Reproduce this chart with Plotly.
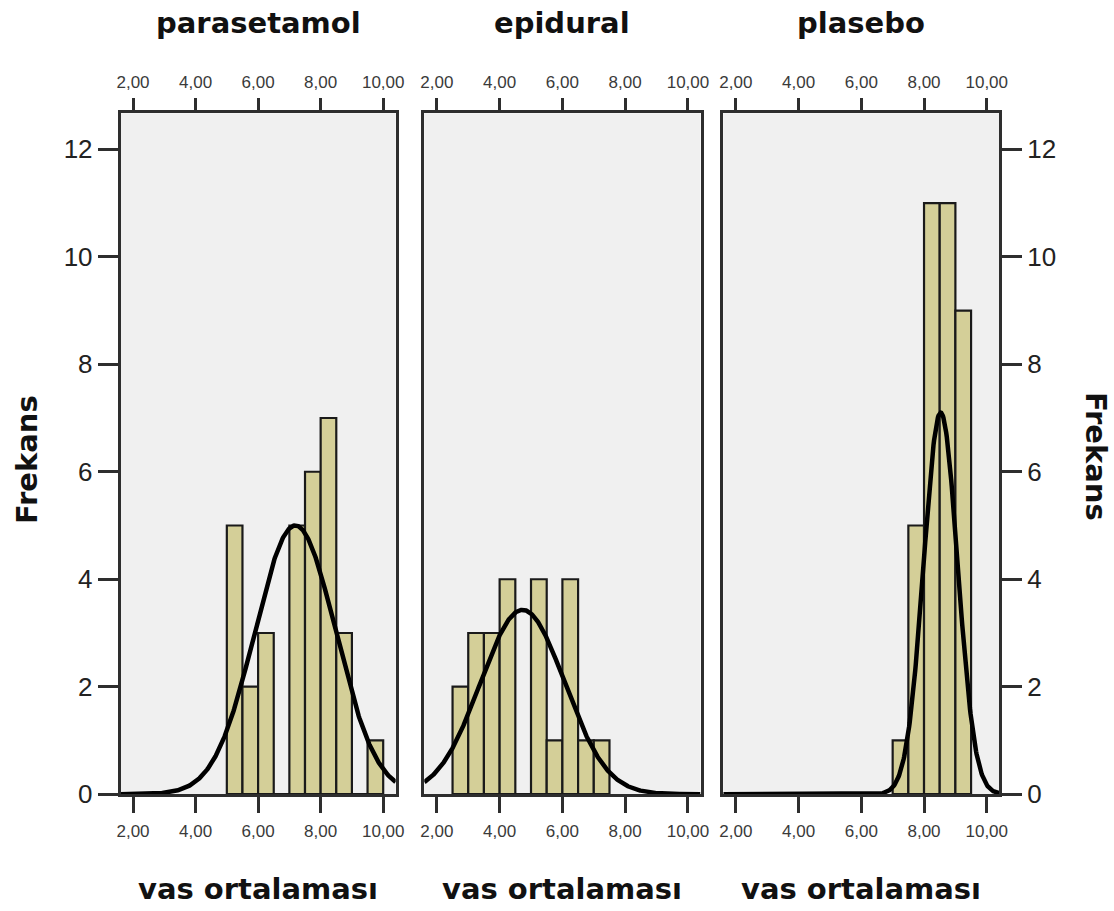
import numpy as np
import plotly.graph_objects as go

# ---- data ----
groups = ["parasetamol", "epidural", "plasebo"]
bin_width = 0.5
bins_parasetamol = [5.0, 5.5, 6.0, 6.5, 7.0, 7.5, 8.0, 8.5, 9.0, 9.5]
counts_parasetamol = [5, 2, 3, 0, 5, 6, 7, 3, 0, 1]
bins_epidural = [2.5, 3.0, 3.5, 4.0, 4.5, 5.0, 5.5, 6.0, 6.5, 7.0]
counts_epidural = [2, 3, 3, 4, 0, 4, 1, 4, 1, 1]
bins_plasebo = [7.0, 7.5, 8.0, 8.5, 9.0]
counts_plasebo = [1, 5, 11, 11, 9]
# fitted normal curves (mean, sd, peak height in counts)
curve_means = [7.19, 4.73, 8.53]
curve_sds = [1.29, 1.34, 0.54]
curve_peaks = [5.0, 3.43, 7.1]
x_ticks = [2, 4, 6, 8, 10]
y_ticks = [0, 2, 4, 6, 8, 10, 12]
x_title = "vas ortalaması"
y_title = "Frekans"

bins_all = [bins_parasetamol, bins_epidural, bins_plasebo]
counts_all = [counts_parasetamol, counts_epidural, counts_plasebo]

W, H = 1114, 911


def px(X):
    return X / W


def py(Y):
    return 1 - Y / H


x_domains = [(px(120.5), px(395.7)), (px(424.3), px(700.5)), (px(723.3), px(999.3))]
y_domain = (py(794.2), py(113.3))
x_range = [1.6, 10.4]
y_range = [0, 12.67]

BAR_FILL = "#D4CF98"
LINE_COL = "#1a1a1a"
AX_COL = "#2e2e2e"
BG = "#F0F0F0"
TICK_FONT = dict(family="Liberation Sans, Arial, sans-serif", size=17, color="#3a3a3a")
YTICK_FONT = dict(family="Liberation Sans, Arial, sans-serif", size=26, color="#222222")
TITLE_FONT = dict(family="DejaVu Sans, sans-serif", size=29, color="#111111")

fig = go.Figure()
layout = dict(
    width=W, height=H,
    margin=dict(l=0, r=0, t=0, b=0, autoexpand=False),
    paper_bgcolor="white",
    plot_bgcolor=BG,
    showlegend=False,
    separators=",.",
    annotations=[],
)

xs = np.linspace(x_range[0], x_range[1], 500)
for i in range(3):
    n = i + 1
    xa = "x" if n == 1 else f"x{n}"
    ya = "y" if n == 1 else f"y{n}"
    centers = [b + bin_width / 2 for b in bins_all[i]]
    fig.add_trace(go.Bar(
        x=centers, y=counts_all[i], width=bin_width,
        marker=dict(color=BAR_FILL, line=dict(color=LINE_COL, width=2.2)),
        xaxis=xa, yaxis=ya, hoverinfo="skip",
    ))
    ys = curve_peaks[i] * np.exp(-0.5 * ((xs - curve_means[i]) / curve_sds[i]) ** 2)
    fig.add_trace(go.Scatter(
        x=xs, y=ys, mode="lines", line=dict(color="black", width=4.5),
        xaxis=xa, yaxis=ya, hoverinfo="skip",
    ))
    top = f"x{n + 3}"
    fig.add_trace(go.Scatter(x=[5], y=[0], mode="markers", marker=dict(opacity=0),
                             xaxis=top, yaxis=ya, hoverinfo="skip"))

    xkey = "xaxis" if n == 1 else f"xaxis{n}"
    ykey = "yaxis" if n == 1 else f"yaxis{n}"
    layout[xkey] = dict(
        domain=list(x_domains[i]), range=x_range, anchor=ya, automargin=False,
        tickvals=x_ticks, tickformat=".2f", ticks="outside", ticklen=16, tickwidth=2.5,
        tickcolor=AX_COL, showline=True, linecolor=AX_COL, linewidth=2.5, mirror=True,
        showgrid=False, zeroline=False, tickfont=TICK_FONT, fixedrange=True,
        ticklabelstandoff=4,
    )
    layout[f"xaxis{n + 3}"] = dict(
        domain=list(x_domains[i]), range=x_range, anchor=ya, overlaying=xa, side="top",
        automargin=False,
        tickvals=x_ticks, tickformat=".2f", ticks="outside", ticklen=14, tickwidth=2.5,
        tickcolor=AX_COL, showline=False, showgrid=False, zeroline=False,
        tickfont=TICK_FONT, fixedrange=True, ticklabelstandoff=4,
    )
    ydict = dict(
        domain=list(y_domain), range=y_range, anchor=xa, automargin=False,
        showline=True, linecolor=AX_COL, linewidth=2.5, mirror=True,
        showgrid=False, zeroline=False, fixedrange=True,
    )
    if n == 1:
        ydict.update(tickvals=y_ticks, ticks="outside", ticklen=20, tickwidth=2.5,
                     tickcolor=AX_COL, tickfont=YTICK_FONT, side="left")
    elif n == 3:
        ydict.update(tickvals=y_ticks, ticks="outside", ticklen=20, tickwidth=2.5,
                     tickcolor=AX_COL, tickfont=YTICK_FONT, side="right")
    else:
        ydict.update(showticklabels=False, ticks="")
    layout[ykey] = ydict

    cx = (x_domains[i][0] + x_domains[i][1]) / 2
    layout["annotations"].append(dict(
        text=f"<b>{groups[i]}</b>", x=cx, y=py(23), xref="paper", yref="paper",
        showarrow=False, font=TITLE_FONT, xanchor="center", yanchor="middle"))
    layout["annotations"].append(dict(
        text=f"<b>{x_title}</b>", x=cx, y=py(889), xref="paper", yref="paper",
        showarrow=False, font=TITLE_FONT, xanchor="center", yanchor="middle"))

layout["annotations"].append(dict(
    text=f"<b>{y_title}</b>", x=px(27), y=py(460), xref="paper", yref="paper",
    showarrow=False, font=TITLE_FONT, textangle=-90, xanchor="center", yanchor="middle"))
layout["annotations"].append(dict(
    text=f"<b>{y_title}</b>", x=px(1096), y=py(456), xref="paper", yref="paper",
    showarrow=False, font=TITLE_FONT, textangle=90, xanchor="center", yanchor="middle"))

fig.update_layout(**layout)
fig.write_html("out.html", config={"displayModeBar": False},
               post_script="document.body.style.margin='0';")
